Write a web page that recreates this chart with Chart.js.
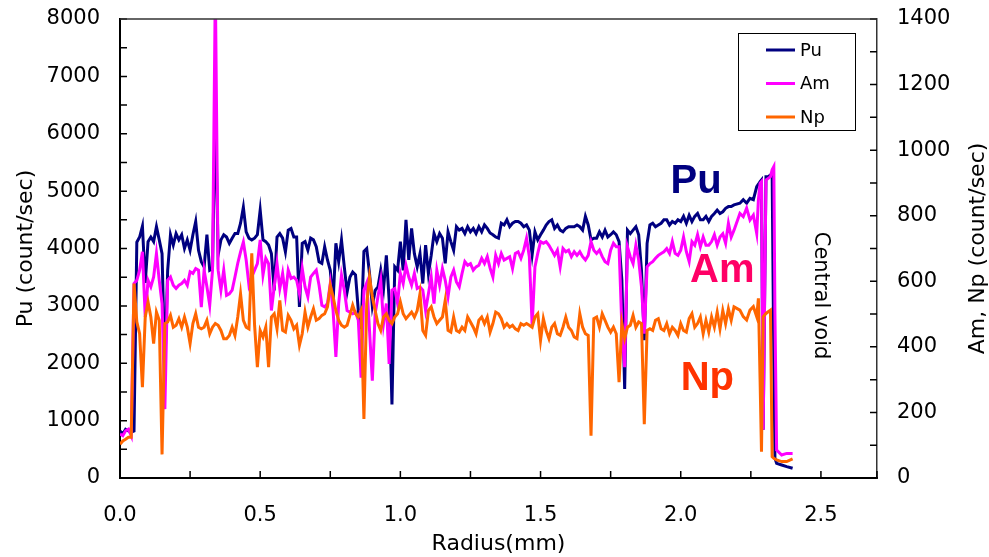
<!DOCTYPE html>
<html>
<head>
<meta charset="utf-8">
<script src="https://cdn.jsdelivr.net/npm/chart.js@4.4.1/dist/chart.umd.min.js"></script>
<style>
  html, body { margin: 0; padding: 0; background: #fff; }
  #wrap { width: 989px; height: 557px; }
</style>
</head>
<body>
<div id="wrap"><canvas id="chart" width="989" height="557"></canvas></div>
<script>
// radius (mm)
const radius = [
  0.00, 0.01, 0.02, 0.03, 0.04, 0.05, 0.06, 0.07, 0.08, 0.09,
  0.10, 0.11, 0.12, 0.13, 0.14, 0.15, 0.16, 0.17, 0.18, 0.19,
  0.20, 0.21, 0.22, 0.23, 0.24, 0.25, 0.26, 0.27, 0.28, 0.29,
  0.30, 0.31, 0.32, 0.33, 0.34, 0.35, 0.36, 0.37, 0.38, 0.39,
  0.40, 0.41, 0.42, 0.43, 0.44, 0.45, 0.46, 0.47, 0.48, 0.49,
  0.50, 0.51, 0.52, 0.53, 0.54, 0.55, 0.56, 0.57, 0.58, 0.59,
  0.60, 0.61, 0.62, 0.63, 0.64, 0.65, 0.66, 0.67, 0.68, 0.69,
  0.70, 0.71, 0.72, 0.73, 0.74, 0.75, 0.76, 0.77, 0.78, 0.79,
  0.80, 0.81, 0.82, 0.83, 0.84, 0.85, 0.86, 0.87, 0.88, 0.89,
  0.90, 0.91, 0.92, 0.93, 0.94, 0.95, 0.96, 0.97, 0.98, 0.99,
  1.00, 1.01, 1.02, 1.03, 1.04, 1.05, 1.06, 1.07, 1.08, 1.09,
  1.10, 1.11, 1.12, 1.13, 1.14, 1.15, 1.16, 1.17, 1.18, 1.19,
  1.20, 1.21, 1.22, 1.23, 1.24, 1.25, 1.26, 1.27, 1.28, 1.29,
  1.30, 1.31, 1.32, 1.33, 1.34, 1.35, 1.36, 1.37, 1.38, 1.39,
  1.40, 1.41, 1.42, 1.43, 1.44, 1.45, 1.46, 1.47, 1.48, 1.49,
  1.50, 1.51, 1.52, 1.53, 1.54, 1.55, 1.56, 1.57, 1.58, 1.59,
  1.60, 1.61, 1.62, 1.63, 1.64, 1.65, 1.66, 1.67, 1.68, 1.69,
  1.70, 1.71, 1.72, 1.73, 1.74, 1.75, 1.76, 1.77, 1.78, 1.79,
  1.80, 1.81, 1.82, 1.83, 1.84, 1.85, 1.86, 1.87, 1.88, 1.89,
  1.90, 1.91, 1.92, 1.93, 1.94, 1.95, 1.96, 1.97, 1.98, 1.99,
  2.00, 2.01, 2.02, 2.03, 2.04, 2.05, 2.06, 2.07, 2.08, 2.09,
  2.10, 2.11, 2.12, 2.13, 2.14, 2.15, 2.16, 2.17, 2.18, 2.19,
  2.211, 2.223, 2.235, 2.247, 2.259, 2.271, 2.277, 2.283, 2.288, 2.294,
  2.304, 2.312, 2.320, 2.326, 2.332, 2.336, 2.342, 2.360, 2.378, 2.399
];

// Pu (count/sec), left axis
const pu = [
  820, 765, 850, 820, 800, 820, 4110, 4200, 4390, 3400,
  4120, 4200, 4120, 4380, 4150, 3910, 1900, 3620, 4240, 4060,
  4260, 4150, 4240, 4000, 4150, 3970, 4240, 4470, 3970, 3770,
  3680, 4240, 3620, 3650, 6500, 3890, 4150, 4240, 4200, 4090,
  4180, 4260, 4260, 4440, 4720, 4290, 4180, 4150, 4180, 4240,
  4670, 4150, 4120, 4060, 3910, 3270, 4200, 4260, 4180, 3940,
  4320, 4350, 4200, 4200, 2980, 4090, 4120, 3970, 4180, 4150,
  4030, 3770, 3740, 4030, 3800, 3620, 3070, 4090, 3770, 4150,
  3680, 3240, 3500, 3590, 3540, 2920, 2600, 3950, 4000, 3560,
  3000, 3270, 3330, 3620, 3300, 3880, 3100, 1280, 3680, 3620,
  4120, 3620, 4500, 3800, 4350, 3910, 3680, 3910, 3390, 4060,
  3560, 3880, 4260, 4120, 4260, 4180, 3740, 4290, 4120, 3970,
  4380, 4320, 4350, 4260, 4380, 4290, 4350, 4260, 4380, 4290,
  4410, 4350, 4270, 4240, 4200, 4180, 4440, 4410, 4500, 4380,
  4440, 4470, 4470, 4440, 4380, 4410, 4320, 3890, 4290, 4150,
  4240, 4320, 4410, 4470, 4500, 4350, 4410, 4320, 4290, 4350,
  4380, 4380, 4380, 4410, 4380, 4320, 4560, 4410, 4150, 4180,
  4180, 4290, 4200, 4320, 4200, 4240, 4290, 4240, 4120, 3450,
  1550, 4320, 4260, 4320, 4380, 4240, 3620, 2400, 4090, 4410,
  4440, 4380, 4410, 4440, 4500, 4500, 4410, 4470, 4440, 4500,
  4470, 4560, 4440, 4580, 4470, 4560, 4610, 4500, 4500, 4560,
  4470, 4560, 4610, 4670, 4610, 4640, 4700, 4730, 4730, 4760,
  4790, 4850, 4790, 4875, 4850, 5080, 5120, 5165, 5195, 840,
  5250, 5250, 5280, 5300, 2000, 343, 256, 227, 198, 169
];

// Am (count/sec), right axis
const am = [
  134, 129, 144, 149, 129, 593, 603, 634, 690, 491,
  603, 583, 613, 685, 603, 532, 210, 603, 613, 588,
  578, 588, 593, 603, 588, 629, 624, 639, 634, 521,
  634, 583, 527, 634, 1500, 634, 573, 634, 557, 562,
  573, 613, 655, 690, 720, 665, 588, 613, 634, 654,
  726, 619, 670, 654, 511, 583, 654, 578, 624, 558,
  634, 609, 613, 603, 562, 639, 583, 553, 613, 624,
  634, 588, 527, 522, 532, 593, 511, 369, 532, 619,
  573, 511, 506, 501, 506, 481, 306, 573, 595, 450,
  297, 501, 553, 603, 471, 532, 348, 573, 578, 532,
  624, 593, 649, 613, 588, 624, 578, 583, 573, 511,
  562, 613, 532, 634, 588, 639, 603, 553, 613, 634,
  598, 583, 624, 660, 649, 654, 634, 644, 649, 670,
  654, 675, 640, 613, 679, 654, 685, 665, 670, 675,
  639, 685, 690, 670, 695, 731, 675, 466, 644, 685,
  721, 716, 721, 710, 695, 679, 695, 644, 700, 690,
  695, 675, 690, 679, 690, 675, 665, 679, 721, 695,
  685, 695, 675, 660, 654, 695, 716, 705, 705, 460,
  338, 705, 675, 654, 710, 665, 583, 440, 644, 654,
  660, 670, 679, 685, 690, 700, 685, 721, 685, 679,
  695, 735, 690, 660, 721, 710, 742, 705, 735, 710,
  710, 721, 742, 710, 735, 745, 716, 777, 735, 756,
  807, 797, 823, 787, 802, 746, 848, 899, 904, 147,
  909, 914, 919, 940, 950, 500, 85, 70, 75, 75
];

// Np (count/sec), right axis
const np = [
  103, 113, 118, 124, 124, 593, 476, 440, 277, 491,
  537, 491, 410, 506, 481, 72, 471, 476, 496, 460,
  466, 486, 460, 491, 460, 410, 471, 501, 460, 455,
  460, 481, 440, 460, 471, 466, 450, 425, 425, 435,
  460, 435, 491, 562, 481, 460, 455, 685, 466, 338,
  450, 430, 460, 338, 491, 501, 455, 542, 450, 445,
  496, 481, 455, 466, 405, 440, 506, 460, 491, 516,
  481, 486, 496, 501, 522, 588, 553, 511, 481, 466,
  460, 466, 496, 527, 501, 491, 511, 180, 532, 613,
  553, 511, 471, 450, 491, 501, 481, 471, 491, 501,
  537, 501, 486, 496, 506, 491, 511, 562, 450, 435,
  511, 522, 491, 471, 481, 491, 542, 450, 445, 491,
  450, 445, 460, 450, 491, 476, 460, 440, 481, 491,
  471, 491, 445, 471, 506, 501, 486, 460, 471, 460,
  466, 455, 450, 471, 466, 471, 466, 460, 491, 501,
  420, 486, 450, 425, 460, 471, 440, 435, 460, 491,
  460, 450, 430, 425, 501, 460, 440, 435, 129, 486,
  491, 460, 501, 481, 460, 445, 460, 440, 292, 471,
  425, 460, 466, 496, 460, 476, 471, 164, 450, 455,
  450, 481, 486, 455, 450, 471, 440, 460, 450, 435,
  471, 450, 445, 486, 501, 460, 471, 491, 440, 481,
  445, 491, 460, 506, 455, 511, 471, 516, 481, 522,
  512, 492, 482, 512, 523, 492, 548, 300, 80, 492,
  502, 507, 512, 65, 60, 58, 55, 50, 50, 58
];

const seriesNames = ["Pu", "Am", "Np"];
const seriesColors = ["#000080", "#FF00FF", "#FF6600"];

const toPoints = (vals) => radius.map((r, i) => ({ x: r, y: vals[i] }));

Chart.defaults.font.family = "DejaVu Sans";
Chart.defaults.color = "#000";

const isMult = (v, step) => Math.abs(v / step - Math.round(v / step)) < 1e-6;

// fixed box size for the vertical axes, no extra label padding above/below
const fixWidth = (w) => (s) => {
  s.width = w;
  s.paddingTop = 0;
  s.paddingBottom = 0;
};

// inward tick marks and the top frame line
const tickMarks = {
  id: "tickMarks",
  afterDatasetsDraw(chart) {
    const { ctx, chartArea: a } = chart;
    const { x, y, y2 } = chart.scales;
    ctx.save();
    ctx.strokeStyle = "#000";
    ctx.lineWidth = 1.5;
    ctx.beginPath();
    x.ticks.forEach((t) => {
      const px = x.getPixelForValue(t.value);
      ctx.moveTo(px, a.bottom);
      ctx.lineTo(px, a.bottom - 7);
    });
    y.ticks.forEach((t) => {
      const py = y.getPixelForValue(t.value);
      ctx.moveTo(a.left, py);
      ctx.lineTo(a.left + 7, py);
    });
    y2.ticks.forEach((t) => {
      const py = y2.getPixelForValue(t.value);
      ctx.moveTo(a.right, py);
      ctx.lineTo(a.right - 7, py);
    });
    ctx.stroke();
    ctx.strokeStyle = "#333";
    ctx.beginPath();
    ctx.moveTo(a.left, a.top);
    ctx.lineTo(a.right, a.top);
    ctx.stroke();
    ctx.restore();
  },
};

// legend box, big labels, right axis title, "Central void"
const extras = {
  id: "extras",
  afterDraw(chart) {
    const { ctx, chartArea: a } = chart;
    const { x, y } = chart.scales;
    ctx.save();

    // legend
    ctx.fillStyle = "#fff";
    ctx.fillRect(738, 33, 118, 98);
    ctx.strokeStyle = "#000";
    ctx.lineWidth = 1;
    ctx.strokeRect(738.5, 33.5, 117, 97);
    ctx.font = "18px 'DejaVu Sans'";
    ctx.textBaseline = "middle";
    ctx.textAlign = "left";
    chart.data.datasets.forEach((ds, i) => {
      const ly = 50 + i * 33.5;
      ctx.strokeStyle = ds.borderColor;
      ctx.lineWidth = 3;
      ctx.beginPath();
      ctx.moveTo(766, ly);
      ctx.lineTo(795, ly);
      ctx.stroke();
      ctx.fillStyle = "#000";
      ctx.fillText(ds.label, 800, ly + 1);
    });

    // big element labels
    ctx.font = "bold 40px 'Liberation Sans'";
    ctx.textAlign = "center";
    ctx.textBaseline = "alphabetic";
    ctx.fillStyle = "#000080";
    ctx.fillText("Pu", x.getPixelForValue(2.055), y.getPixelForValue(4960));
    ctx.fillStyle = "#FF0066";
    ctx.fillText("Am", x.getPixelForValue(2.148), y.getPixelForValue(3420));
    ctx.fillStyle = "#FF3300";
    ctx.fillText("Np", x.getPixelForValue(2.095), y.getPixelForValue(1540));

    // Central void
    ctx.fillStyle = "#000";
    ctx.font = "21px 'DejaVu Sans'";
    ctx.textBaseline = "middle";
    ctx.translate(x.getPixelForValue(2.497), y.getPixelForValue(3180));
    ctx.rotate(Math.PI / 2);
    ctx.fillText("Central void", 0, 0);
    ctx.setTransform(1, 0, 0, 1, 0, 0);

    // right axis title (reads bottom to top)
    ctx.font = "22px 'DejaVu Sans'";
    ctx.translate(978, (a.top + a.bottom) / 2);
    ctx.rotate(-Math.PI / 2);
    ctx.fillText("Am, Np (count/sec)", 0, 0);
    ctx.restore();
  },
};

new Chart(document.getElementById("chart"), {
  type: "line",
  data: {
    datasets: [
      { label: seriesNames[0], data: toPoints(pu), yAxisID: "y", borderColor: seriesColors[0], order: 3 },
      { label: seriesNames[1], data: toPoints(am), yAxisID: "y2", borderColor: seriesColors[1], order: 2 },
      { label: seriesNames[2], data: toPoints(np), yAxisID: "y2", borderColor: seriesColors[2], order: 1 },
    ],
  },
  options: {
    responsive: false,
    animation: false,
    devicePixelRatio: 1,
    layout: { padding: { top: 19, left: 0, right: 0, bottom: 0 } },
    elements: {
      line: { borderWidth: 3, tension: 0, fill: false },
      point: { radius: 0, hoverRadius: 0 },
    },
    plugins: { legend: { display: false }, tooltip: { enabled: false } },
    scales: {
      x: {
        type: "linear",
        min: 0,
        max: 2.7,
        afterFit: (s) => { s.height = 79; s.paddingLeft = 0; s.paddingRight = 0; },
        grid: { drawOnChartArea: false, drawTicks: false },
        border: { color: "#000", width: 2 },
        ticks: {
          stepSize: 0.25,
          autoSkip: false,
          maxRotation: 0,
          padding: 25,
          font: { size: 21 },
          callback: (v) => (isMult(v, 0.5) ? v.toFixed(1) : ""),
        },
        title: { display: true, text: "Radius(mm)", font: { size: 22 }, padding: { top: 0, bottom: 0 } },
      },
      y: {
        position: "left",
        min: 0,
        max: 8000,
        afterFit: fixWidth(120),
        grid: { drawOnChartArea: false, drawTicks: false },
        border: { color: "#000", width: 2 },
        ticks: {
          stepSize: 500,
          autoSkip: false,
          padding: 20,
          font: { size: 21 },
          callback: (v) => (isMult(v, 1000) ? String(v) : ""),
        },
        title: { display: true, text: "Pu (count/sec)", font: { size: 22 }, padding: { top: 13, bottom: 0 } },
      },
      y2: {
        position: "right",
        min: 0,
        max: 1400,
        afterFit: fixWidth(112),
        grid: { drawOnChartArea: false, drawTicks: false },
        border: { color: "#333", width: 1.5 },
        ticks: {
          stepSize: 100,
          autoSkip: false,
          padding: 20,
          font: { size: 21 },
          callback: (v) => (isMult(v, 200) ? String(v) : ""),
        },
      },
    },
  },
  plugins: [tickMarks, extras],
});
</script>
</body>
</html>
